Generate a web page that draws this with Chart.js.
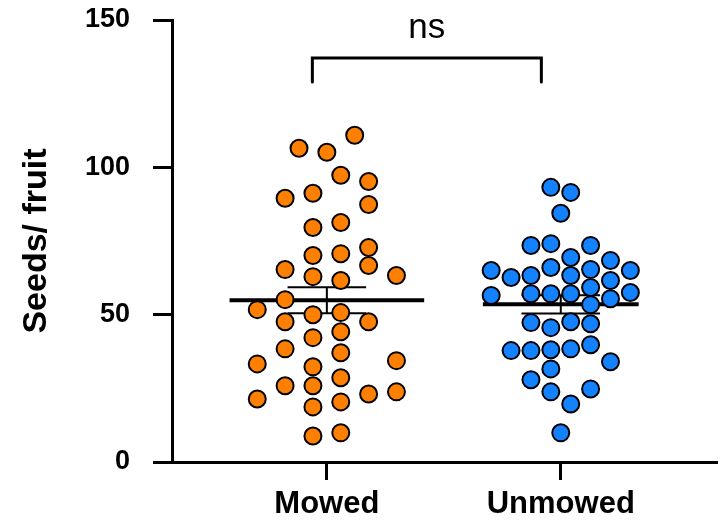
<!DOCTYPE html>
<html>
<head>
<meta charset="UTF-8">
<title>Seeds per fruit</title>
<script src="https://cdn.jsdelivr.net/npm/chart.js"></script>
<style>
  html, body { margin: 0; padding: 0; background: #fff; }
  #wrap { width: 728px; height: 520px; }
</style>
</head>
<body>
<div id="wrap"><canvas id="seedChart" width="728" height="520"></canvas></div>

<script>
    // データ
    const categories = ['Mowed', 'Unmowed'];
    const yTicks = [0, 50, 100, 150];

    const mowedSeeds = [110.9, 106.5, 105.1, 97.3, 95.2, 91.2, 89.5, 87.4, 81.3, 79.6,
        72.8, 70.7, 70.1, 66.7, 65.3, 63.3, 62.9, 61.6, 55.1, 51.7,
        50.7, 50.0, 47.6, 47.6, 44.2, 42.2, 38.4, 37.1, 34.4, 33.3,
        32.3, 28.6, 25.9, 25.9, 23.8, 23.1, 21.4, 20.4, 18.7, 9.9, 8.8];
    const unmowedSeeds = [93.2, 91.5, 84.4, 74.1, 73.5, 73.5, 69.4, 68.4, 66.0, 65.3,
        65.0, 65.0, 63.3, 63.3, 62.6, 61.6, 59.2, 57.5, 57.1, 57.1,
        57.1, 56.5, 55.4, 53.4, 47.6, 47.3, 46.9, 45.6, 39.8, 38.4,
        38.1, 37.8, 37.8, 34.0, 31.6, 27.9, 24.8, 23.8, 19.7, 9.9];

    const means = [54.9, 53.5];
    const sems = [4.4, 3.1];
    const sigLabel = 'ns';

    // 散布の列（ジッター）: 列番号
    const mowedLanes = [1, -1, 0, 0.5, 1.5, -0.5, -1.5, 1.5, 0.5, -0.5,
        1.5, 0.5, -0.5, 1.5, -1.5, 2.5, -0.5, 0.5, -1.5, -2.5,
        0.5, -0.5, -1.5, 1.5, 0.5, -0.5, -1.5, 0.5, 2.5, -2.5,
        -0.5, 0.5, -1.5, -0.5, 2.5, 1.5, -2.5, 0.5, -0.5, 0.5, -0.5];
    const unmowedLanes = [-0.5, 0.5, 0, -0.5, -1.5, 1.5, 0.5, 2.5, -0.5, 1.5,
        -3.5, 3.5, -1.5, 0.5, -2.5, 2.5, 1.5, 3.5, -1.5, -0.5,
        0.5, -3.5, 2.5, 1.5, 0.5, -1.5, 1.5, -0.5, 1.5, 0.5,
        -0.5, -2.5, -1.5, 2.5, -0.5, -1.5, 1.5, -0.5, 0.5, 0];

    // 見た目の設定
    const laneWidth = [0.119, 0.085];
    const meanHalf = [0.416, 0.333];
    const capHalf = 0.168;
    const colors = ['#ff8000', '#1482ff'];
    const FONT = "'Liberation Sans', Arial, sans-serif";

    const pointSets = [
        mowedSeeds.map((v, i) => ({ x: 1 + mowedLanes[i] * laneWidth[0], y: v })),
        unmowedSeeds.map((v, i) => ({ x: 2 + unmowedLanes[i] * laneWidth[1], y: v }))
    ];

    const datasets = [];
    categories.forEach((name, c) => {
        datasets.push({
            type: 'scatter',
            label: name,
            data: pointSets[c],
            backgroundColor: colors[c],
            borderColor: '#000',
            borderWidth: 2,
            pointRadius: 8.5,
            pointHoverRadius: 8.5,
            order: 1
        });
    });
    categories.forEach((name, c) => {
        const cx = c + 1;
        const lo = means[c] - sems[c];
        const hi = means[c] + sems[c];
        // 平均線
        datasets.push({
            type: 'line',
            label: name + ' mean',
            data: [{ x: cx - meanHalf[c], y: means[c] }, { x: cx + meanHalf[c], y: means[c] }],
            borderColor: '#000',
            borderWidth: 4,
            pointRadius: 0,
            order: 2
        });
        // SEM
        datasets.push({
            type: 'line',
            label: name + ' sem',
            data: [
                { x: cx - capHalf, y: lo }, { x: cx + capHalf, y: lo }, { x: cx, y: null },
                { x: cx, y: lo }, { x: cx, y: hi }, { x: cx, y: null },
                { x: cx - capHalf, y: hi }, { x: cx + capHalf, y: hi }
            ],
            borderColor: '#000',
            borderWidth: 2,
            pointRadius: 0,
            spanGaps: false,
            order: 3
        });
    });

    // 有意差ブラケット
    const bracketPlugin = {
        id: 'bracket',
        afterDatasetsDraw(chart) {
            const { ctx, scales: { x, y } } = chart;
            const x1 = x.getPixelForValue(0.938);
            const x2 = x.getPixelForValue(1.917);
            const yTop = y.getPixelForValue(137.1);
            const yEnd = y.getPixelForValue(129.0);
            ctx.save();
            ctx.strokeStyle = '#000';
            ctx.lineWidth = 3;
            ctx.lineCap = 'round';
            ctx.beginPath();
            ctx.moveTo(x1, yEnd);
            ctx.lineTo(x1, yTop);
            ctx.lineTo(x2, yTop);
            ctx.lineTo(x2, yEnd);
            ctx.stroke();
            ctx.fillStyle = '#000';
            ctx.font = '35px ' + FONT;
            ctx.textAlign = 'center';
            ctx.textBaseline = 'alphabetic';
            ctx.fillText(sigLabel, (x1 + x2) / 2, yTop - 20);
            ctx.restore();
        }
    };

    const config = {
        data: { datasets: datasets },
        options: {
            responsive: false,
            animation: false,
            events: [],
            layout: { padding: { top: 20, right: 8, left: 0, bottom: 0 } },
            plugins: {
                legend: { display: false },
                tooltip: { enabled: false }
            },
            scales: {
                x: {
                    type: 'linear',
                    min: 0.338,
                    max: 2.670,
                    afterBuildTicks: function(scale) {
                        scale.ticks = categories.map((n, i) => ({ value: i + 1 }));
                    },
                    afterFit: function(scale) {
                        scale.height = 58;
                        scale.paddingLeft = 0;
                        scale.paddingRight = 0;
                    },
                    grid: {
                        drawOnChartArea: false,
                        drawTicks: true,
                        tickLength: 18,
                        tickWidth: 3,
                        tickColor: '#000'
                    },
                    border: { display: true, color: '#000', width: 3 },
                    ticks: {
                        padding: 6,
                        color: '#000',
                        font: { family: FONT, size: 31, weight: 'bold' },
                        autoSkip: false,
                        maxRotation: 0,
                        callback: function(value) {
                            return categories[Math.round(value) - 1];
                        }
                    }
                },
                y: {
                    min: 0,
                    max: 150,
                    afterBuildTicks: function(scale) {
                        scale.ticks = yTicks.map(v => ({ value: v }));
                    },
                    afterFit: function(scale) {
                        scale.width = 172;
                        scale.paddingTop = 0;
                        scale.paddingBottom = 0;
                    },
                    grid: {
                        drawOnChartArea: false,
                        drawTicks: true,
                        tickLength: 19,
                        tickWidth: 3,
                        tickColor: '#000'
                    },
                    border: { display: true, color: '#000', width: 3 },
                    ticks: {
                        padding: 23,
                        color: '#000',
                        font: { family: FONT, size: 27, weight: 'bold' }
                    },
                    title: {
                        display: true,
                        text: 'Seeds/ fruit',
                        color: '#000',
                        font: { family: FONT, size: 34, weight: 'bold' },
                        padding: { top: 16, bottom: 0 }
                    }
                }
            }
        },
        plugins: [bracketPlugin]
    };

    const ctx = document.getElementById('seedChart').getContext('2d');
    new Chart(ctx, config);
</script>
</body>
</html>
